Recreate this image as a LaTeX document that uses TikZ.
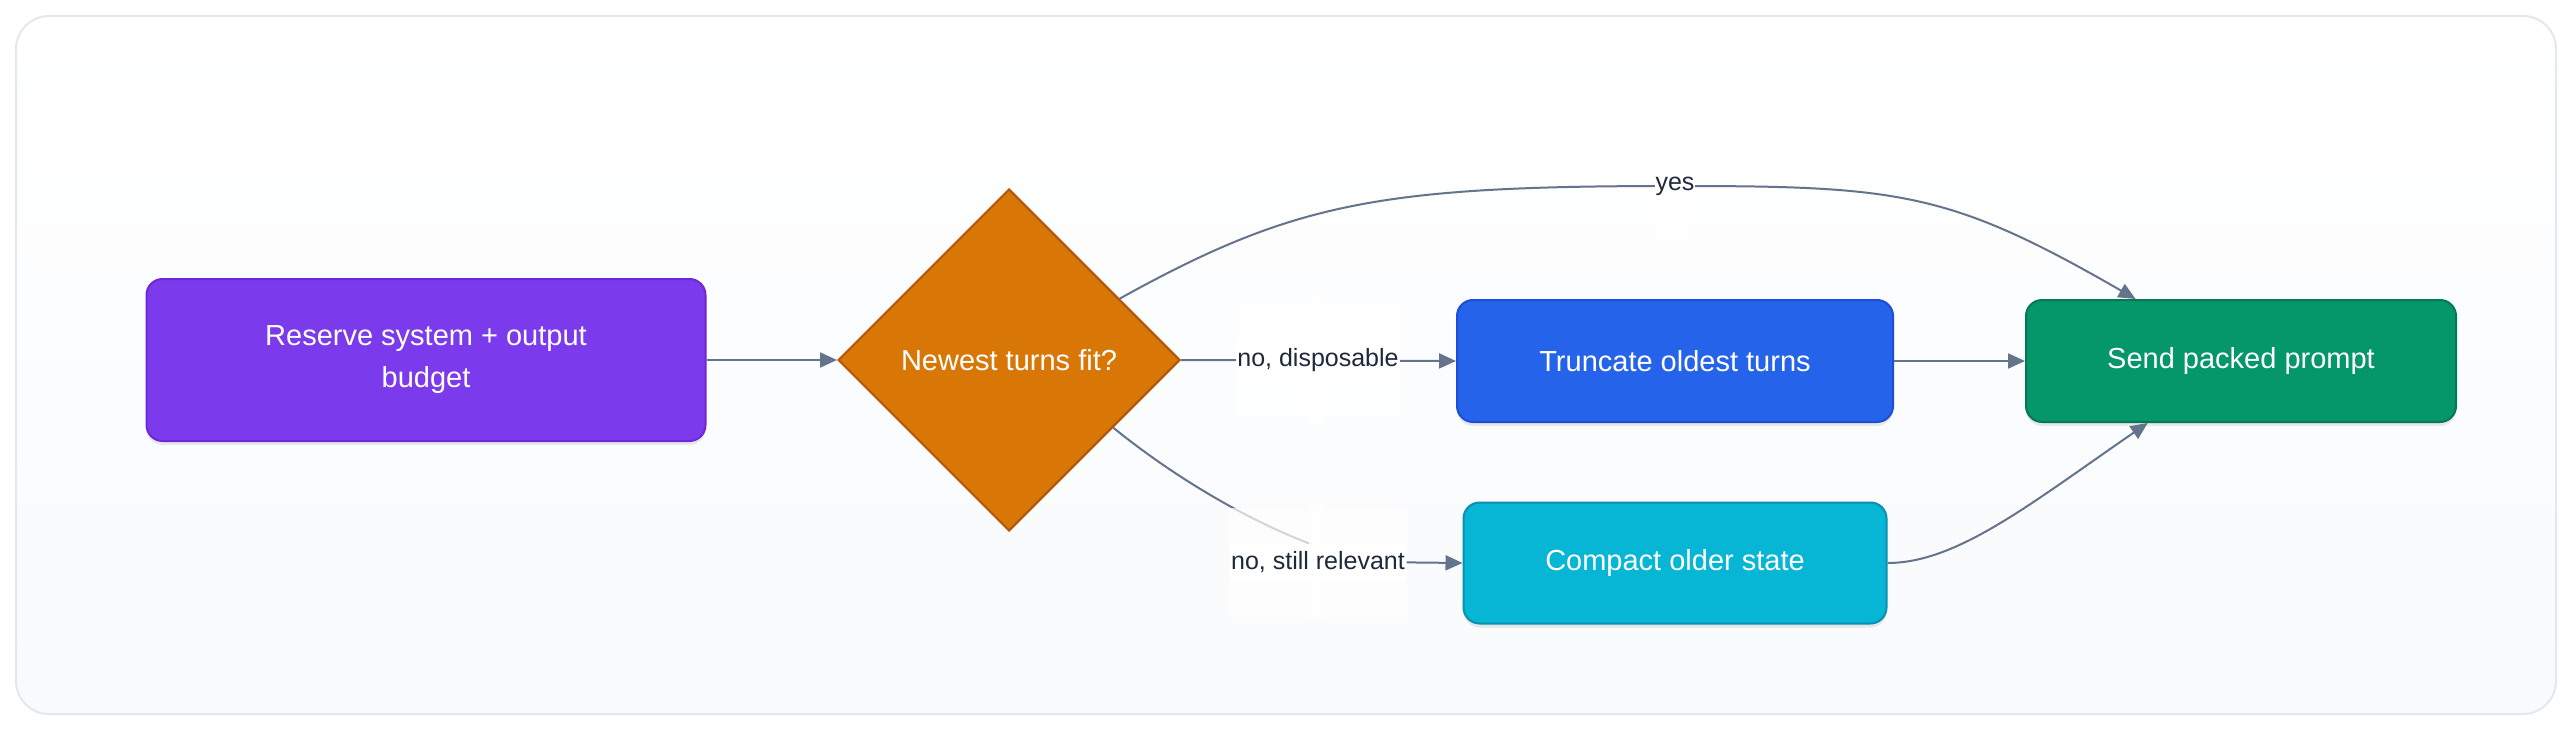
\documentclass[tikz,border=0pt]{standalone}
\usepackage{fontspec}
\setmainfont{Liberation Sans}
\usetikzlibrary{arrows.meta,shapes.geometric,shadows,calc}
\definecolor{framecol}{HTML}{E2E8F0}
\definecolor{bgbot}{HTML}{F8FAFC}
\definecolor{violetf}{HTML}{7C3AED}
\definecolor{violetd}{HTML}{6D28D9}
\definecolor{amberf}{HTML}{D97706}
\definecolor{amberd}{HTML}{B45309}
\definecolor{bluef}{HTML}{2563EB}
\definecolor{blued}{HTML}{1D4ED8}
\definecolor{cyanf}{HTML}{06B6D4}
\definecolor{cyand}{HTML}{0891B2}
\definecolor{greenf}{HTML}{059669}
\definecolor{greend}{HTML}{047857}
\definecolor{edgec}{HTML}{64748B}
\definecolor{labc}{HTML}{1E293B}
\tikzset{
  nodebox/.style={rectangle, rounded corners=16pt, line width=2pt, text=white,
    font=\fontsize{29}{42}\selectfont, align=center, inner sep=0pt,
    drop shadow={shadow xshift=0pt, shadow yshift=-4pt, opacity=0.08, fill=black}},
  decbox/.style={diamond, aspect=1, line width=2pt, text=white, inner sep=0pt,
    minimum width=342pt, minimum height=342pt,
    font=\fontsize{29}{35}\selectfont},
  edge/.style={draw=edgec, line width=2pt, -{Triangle[length=17pt,width=15pt]}},
  edgelab/.style={fill=white, text=labc, inner xsep=1pt, inner ysep=7pt,
    font=\fontsize{25}{30}\selectfont},
  labghost/.style={fill=white, fill opacity=0.7}
}
\begin{document}
\begin{tikzpicture}[x=1pt,y=-1pt]
\useasboundingbox (0,0) rectangle (2572,730);
\fill[white] (0,0) rectangle (2572,730);
\shade[top color=white, bottom color=bgbot, rounded corners=33pt] (16,16) rectangle (2556,714);
\draw[framecol, line width=2pt, rounded corners=33pt] (16,16) rectangle (2556,714);

\node[nodebox, fill=violetf, draw=violetd, minimum width=559pt, minimum height=162pt] (reserve) at (426,360) {Reserve system + output\\budget};
\node[decbox, fill=amberf, draw=amberd] (dec) at (1009,360) {Newest turns fit?};
\node[nodebox, fill=bluef, draw=blued, minimum width=436pt, minimum height=122pt] (trunc) at (1675,361) {Truncate oldest turns};
\node[nodebox, fill=cyanf, draw=cyand, minimum width=423pt, minimum height=121pt] (comp) at (1675,563) {Compact older state};
\node[nodebox, fill=greenf, draw=greend, minimum width=430pt, minimum height=122pt] (send) at (2241,361) {Send packed prompt};

\coordinate (lyes) at (1675,186);
\coordinate (ldisp) at (1318,360);
\coordinate (lrel) at (1318,562);

\draw[edge] (reserve.east) -- (dec.west);
\draw[edge] (dec.east) -- (trunc.west);
\draw[edge] (trunc.east) -- (send.west);
\draw[edge] (dec.29) .. controls (1294,202) and (1380,186) .. (lyes)
  .. controls (1900,186) and (1950,192) .. ($(send.north west)!0.256!(send.north east)$);
\draw[edge] (dec.-33) .. controls (1190,490) and (1290,545) .. (1370,562) -- (comp.west);
\draw[edge] (comp.east) .. controls (1957,563) and (2030,504) .. ($(send.south west)!0.284!(send.south east)$);

\fill[labghost] (1236,302) rectangle (1400,417);
\fill[labghost] (1309,292) rectangle (1326,425);
\fill[labghost] (1229,508) rectangle (1407,617);
\fill[labghost] (1309,503) rectangle (1325,620);
\fill[labghost] (1655,127) rectangle (1695,243);

\node[edgelab] (tyes) at (lyes) {yes};
\node[edgelab] (tdisp) at (ldisp) {no, disposable};
\node[edgelab] (trel) at (lrel) {no, still relevant};
\end{tikzpicture}
\end{document}
